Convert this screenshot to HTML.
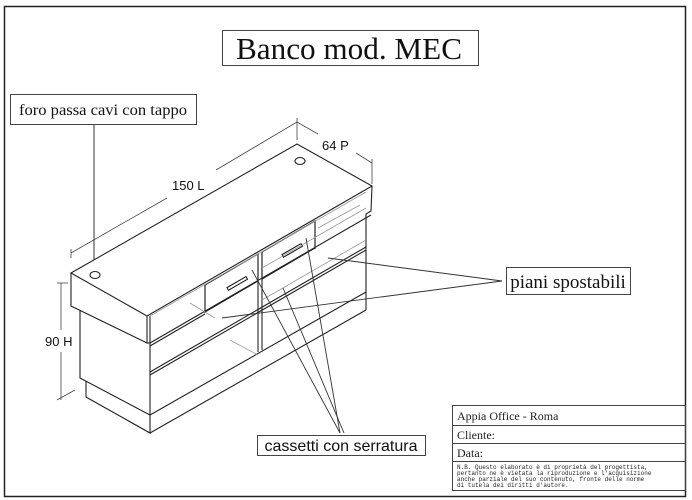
<!DOCTYPE html>
<html><head><style>body{margin:0;background:#fff}svg{display:block}</style></head><body>
<svg width="692" height="500" viewBox="0 0 692 500" xmlns="http://www.w3.org/2000/svg" font-family="Liberation Serif, serif">
<rect x="4.5" y="6.5" width="681" height="490" fill="none" stroke="#222" stroke-width="1.5"/>
<rect x="222.5" y="30.5" width="256" height="35" fill="none" stroke="#444"/>
<text x="349" y="59" font-size="31" text-anchor="middle" fill="#111" textLength="226" lengthAdjust="spacingAndGlyphs">Banco mod. MEC</text>
<rect x="10.5" y="94.5" width="186" height="30" fill="none" stroke="#444"/>
<text x="103" y="115" font-size="16" text-anchor="middle" fill="#111" textLength="168" lengthAdjust="spacingAndGlyphs">foro passa cavi con tappo</text>
<line x1="94" y1="124" x2="94" y2="272" stroke="#333"/>
<g stroke="#222" fill="none" stroke-width="1.1">
<polygon points="71,273 297,144 372,186 147,316" fill="#fff"/>
<polyline points="71,273 71,306 147,343 147,316"/>
<line x1="147" y1="343" x2="150" y2="343"/>
<polyline points="80,310 80,378 150,415"/>
<polyline points="86,381 86,397 150,433 150,415"/>
<line x1="150" y1="433" x2="366" y2="310"/>
<line x1="366" y1="292" x2="366" y2="310"/>
<line x1="150" y1="316" x2="150" y2="415"/>
<polyline points="372,186 371,211 366,214 366,292"/>
<line x1="150" y1="415" x2="366" y2="292"/>
<line x1="150" y1="343" x2="371" y2="215"/>
<line x1="150" y1="372" x2="366" y2="247"/>
<line x1="150" y1="375" x2="366" y2="250"/>
<line x1="150" y1="346" x2="205" y2="314"/>
<line x1="205" y1="285" x2="205" y2="313"/>
<line x1="258" y1="254" x2="258" y2="352"/>
<line x1="262" y1="252" x2="262" y2="350"/>
<line x1="315" y1="221" x2="315" y2="249"/>
<polygon points="205,285 258,254 258,281 205,312"/>
<polygon points="262,252 315,221 315,248 262,279"/>
<rect x="226" y="282" width="22" height="3" transform="rotate(-30 237 283)"/>
<rect x="281" y="249" width="22" height="3" transform="rotate(-30 292 250)"/>
<ellipse cx="95" cy="275" rx="5" ry="3.5"/>
<ellipse cx="300" cy="161" rx="5" ry="3.5"/>
</g>
<g stroke="#999" fill="none" stroke-width="0.8">
<line x1="150" y1="316" x2="366" y2="192"/>
<line x1="190" y1="303" x2="215" y2="318"/>
<line x1="230" y1="340" x2="258" y2="355"/>
<line x1="318" y1="228" x2="360" y2="205"/>
<line x1="262" y1="300" x2="366" y2="240"/>
<line x1="262" y1="268" x2="366" y2="208"/>
</g>
<g stroke="#444" fill="none" stroke-width="0.8">
<line x1="71" y1="253" x2="167" y2="198"/><line x1="216" y1="170" x2="297" y2="122"/>
<line x1="71" y1="249" x2="71" y2="258"/><line x1="297" y1="118" x2="297" y2="140"/>
<line x1="297" y1="122" x2="318" y2="134"/><line x1="356" y1="153" x2="372" y2="163"/>
<line x1="372" y1="159" x2="372" y2="184"/>
<line x1="61" y1="283" x2="61" y2="330"/><line x1="61" y1="352" x2="61" y2="400"/>
<line x1="57" y1="283" x2="68" y2="283"/><line x1="57" y1="400" x2="75" y2="390"/>
</g>
<g font-family="Liberation Sans, sans-serif" font-size="13" fill="#111">
<text x="172" y="190">150 L</text>
<text x="322" y="150">64 P</text>
<text x="45" y="346">90 H</text>
</g>
<g stroke="#333" stroke-width="0.9">
<line x1="502" y1="281" x2="328" y2="258"/>
<line x1="502" y1="281" x2="222" y2="318"/>
<line x1="340" y1="433" x2="252" y2="270"/>
<line x1="340" y1="433" x2="306" y2="238"/>
<line x1="344" y1="433" x2="283" y2="288"/>
</g>
<rect x="506.5" y="267.5" width="124" height="27" fill="#fff" stroke="#444"/>
<text x="568" y="288" font-size="19" text-anchor="middle" fill="#111">piani spostabili</text>
<rect x="257.5" y="435.5" width="168" height="20" fill="#fff" stroke="#444"/>
<text x="341" y="451" font-family="Liberation Sans, sans-serif" font-size="16" text-anchor="middle" fill="#111">cassetti con serratura</text>
<g stroke="#444" fill="none">
<rect x="452.5" y="405.5" width="233" height="85"/>
<line x1="452" y1="425.5" x2="686" y2="425.5"/>
<line x1="452" y1="443.5" x2="686" y2="443.5"/>
<line x1="452" y1="461.5" x2="686" y2="461.5"/>
</g>
<g font-size="12" fill="#222">
<text x="457" y="420">Appia Office  - Roma</text>
<text x="457" y="439">Cliente:</text>
<text x="457" y="457">Data:</text>
</g>
<g font-family="Liberation Mono, monospace" font-size="6" fill="#222">
<text x="457" y="469">N.B. Questo elaborato è di proprietà del progettista,</text>
<text x="457" y="475">pertanto ne è vietata la riproduzione e l'acquisizione</text>
<text x="457" y="481">anche parziale del suo contenuto, fronte delle norme</text>
<text x="457" y="487">di tutela dei diritti d'autore.</text>
</g>
</svg>
</body></html>
